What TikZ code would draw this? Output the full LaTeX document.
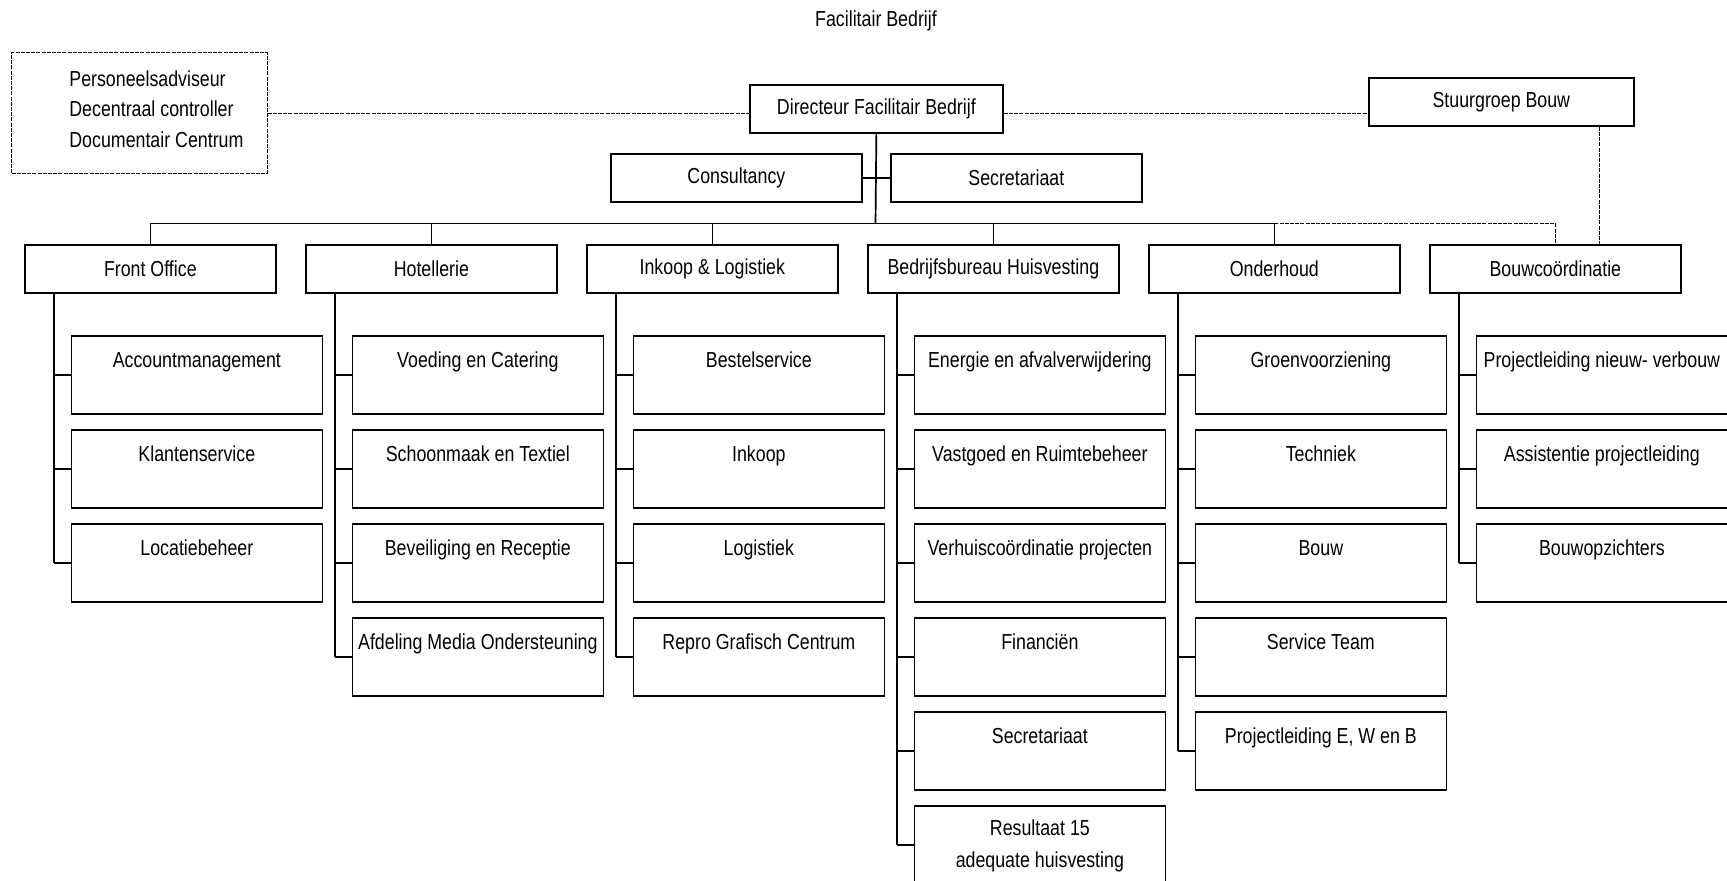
\documentclass[tikz,border=0pt]{standalone}
\usepackage{fontspec}
\setmainfont{Liberation Sans}[FakeStretch=0.82]
\usetikzlibrary{calc}
\newcommand\orgfont{\fontsize{10.85pt}{16pt}\selectfont}
\newcommand\kids[2]{%
  \path ([xshift=-8.25pt]#11.west) coordinate (#1T);
  \draw[conn] (#1T |- #1.south) -- (#1T |- #1#2.west);
  \foreach \k in {1,...,#2} {\draw[conn] (#1T |- #1\k.west) -- (#1\k.west);}
}
\begin{document}
\begin{tikzpicture}[x=0.5pt,y=-0.5pt,
  box/.style={draw, line width=0.85pt, anchor=north west, inner sep=0pt,
    minimum width=125.5pt, minimum height=24pt, font=\orgfont},
  child/.style={box, minimum height=39pt, text height=16pt, text depth=23pt},
  conn/.style={line width=0.85pt},
  dline/.style={line width=0.55pt, dash pattern=on 2pt off 0.6pt},
  txt/.style={inner sep=0pt, font=\orgfont}]
\useasboundingbox (0,0) rectangle (1727,880);

% title
\node[txt] (title) at (876,21) {Facilitair Bedrijf};

% top level
\node[box, minimum width=126.5pt] (dir) at (749,84) {Directeur Facilitair Bedrijf};
\node[box, minimum width=127.75pt, minimum height=60.5pt, dash pattern=on 2pt off 0.6pt, line width=0.55pt] (pers) at (11,52) {};
\node[txt, anchor=west, align=left, font=\fontsize{10.85pt}{15.25pt}\selectfont] (perstxt) at (69,109)
  {Personeelsadviseur\\Decentraal controller\\Documentair Centrum};
\node[box, minimum width=132.5pt] (stuur) at (1368,77) {Stuurgroep Bouw};
\node[box] (cons) at (610,153) {Consultancy};
\node[box] (sec) at (890,153) {Secretariaat};

% level 2
\node[box] (fo)  at (24,244)   {Front Office};
\node[box] (ho)  at (305,244)  {Hotellerie};
\node[box] (ik)  at (586,244)  {Inkoop \& Logistiek};
\node[box] (bb)  at (867,244)  {Bedrijfsbureau Huisvesting};
\node[box] (od)  at (1148,244) {Onderhoud};
\node[box] (bc)  at (1429,244) {Bouwcoördinatie};

\coordinate (bus) at (875.5,223.5);

% connectors top
\draw[conn] (dir.south) -- (bus);
\draw[conn] (cons.east) -- (sec.west);
\draw[conn] (fo.north |- bus) -- (od.north |- bus);
\foreach \n in {fo,ho,ik,bb,od} {\draw[conn] (\n.north |- bus) -- (\n.north);}
\draw[dline] (od.north |- bus) -| (bc.north);
\draw[dline] (pers.east) -- (pers.east -| dir.west);
\draw[dline] (dir.east |- pers.east) -- (pers.east -| stuur.west);
\coordinate (sdrop) at ($(stuur.south east)+(-17.5pt,0)$);
\draw[dline] (sdrop) -- (sdrop |- bc.north);

% children: Front Office
\node[child] (fo1) at (70.5,335) {Accountmanagement};
\node[child] (fo2) at (70.5,429) {Klantenservice};
\node[child] (fo3) at (70.5,523) {Locatiebeheer};
\kids{fo}{3}

% Hotellerie
\node[child] (ho1) at (351.5,335) {Voeding en Catering};
\node[child] (ho2) at (351.5,429) {Schoonmaak en Textiel};
\node[child] (ho3) at (351.5,523) {Beveiliging en Receptie};
\node[child] (ho4) at (351.5,617) {Afdeling Media Ondersteuning};
\kids{ho}{4}

% Inkoop & Logistiek
\node[child] (ik1) at (632.5,335) {Bestelservice};
\node[child] (ik2) at (632.5,429) {Inkoop};
\node[child] (ik3) at (632.5,523) {Logistiek};
\node[child] (ik4) at (632.5,617) {Repro Grafisch Centrum};
\kids{ik}{4}

% Bedrijfsbureau Huisvesting
\node[child] (bb1) at (913.5,335) {Energie en afvalverwijdering};
\node[child] (bb2) at (913.5,429) {Vastgoed en Ruimtebeheer};
\node[child] (bb3) at (913.5,523) {Verhuiscoördinatie projecten};
\node[child] (bb4) at (913.5,617) {Financiën};
\node[child] (bb5) at (913.5,711) {Secretariaat};
\node[child, align=center, text height=31pt, text depth=8pt] (bb6) at (913.5,805) {Resultaat 15\\adequate huisvesting};
\kids{bb}{6}

% Onderhoud
\node[child] (od1) at (1194.5,335) {Groenvoorziening};
\node[child] (od2) at (1194.5,429) {Techniek};
\node[child] (od3) at (1194.5,523) {Bouw};
\node[child] (od4) at (1194.5,617) {Service Team};
\node[child] (od5) at (1194.5,711) {Projectleiding E, W en B};
\kids{od}{5}

% Bouwcoordinatie
\node[child] (bc1) at (1475.5,335) {Projectleiding nieuw- verbouw};
\node[child] (bc2) at (1475.5,429) {Assistentie projectleiding};
\node[child] (bc3) at (1475.5,523) {Bouwopzichters};
\kids{bc}{3}
\end{tikzpicture}
\end{document}
